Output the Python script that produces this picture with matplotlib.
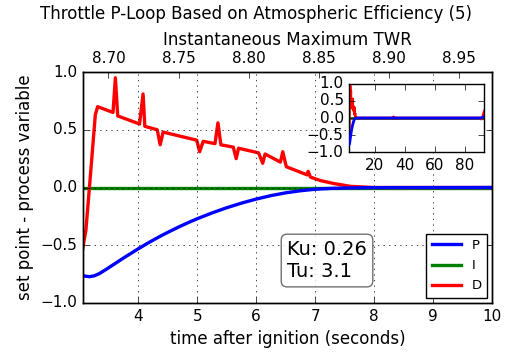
import matplotlib
matplotlib.use('Agg')
import matplotlib.pyplot as plt

# values
t_p = [3.05, 3.10, 3.17, 3.25, 3.34, 3.45, 3.57, 3.75, 4.0, 4.2, 4.36, 4.5, 4.7, 4.85, 5.0,
       5.25, 5.5, 5.75, 6.0, 6.25, 6.5, 6.75, 7.0, 7.25, 7.5, 8.0, 10.0, 90.0, 91.5, 93.0]
p_vals = [-0.76, -0.768, -0.772, -0.765, -0.745, -0.71, -0.67, -0.61, -0.53, -0.47, -0.425,
          -0.388, -0.338, -0.303, -0.27, -0.22, -0.175, -0.135, -0.1, -0.07, -0.046, -0.028,
          -0.015, -0.008, -0.004, -0.001, 0.0, 0.0, 0.01, 0.05]

t_i = [3.05, 93.0]
i_vals = [0.0, 0.0]

t_d = [3.05, 3.11, 3.17, 3.27, 3.31, 3.57, 3.61, 3.65, 4.02, 4.08, 4.11, 4.32, 4.37, 4.42,
       4.99, 5.04, 5.10, 5.30, 5.35, 5.40, 5.61, 5.66, 5.70, 6.04, 6.11, 6.15, 6.41, 6.45,
       6.51, 6.86, 6.88, 6.92, 7.09, 7.31, 7.60, 8.0, 10.0, 32.0, 32.5, 33.0, 90.0, 91.0, 92.0, 93.0]
d_vals = [-0.55, -0.37, 0.0, 0.63, 0.70, 0.65, 0.95, 0.62, 0.55, 0.81, 0.53, 0.50, 0.37, 0.48,
          0.41, 0.31, 0.40, 0.38, 0.56, 0.37, 0.35, 0.25, 0.34, 0.30, 0.21, 0.29, 0.22, 0.31,
          0.18, 0.11, 0.14, 0.09, 0.06, 0.035, 0.01, 0.0, 0.0, 0.0, 0.03, 0.0, 0.0, -0.03, 0.05, 0.2]

ku = 0.26
tu = 3.1
twr_lim = (8.6818, 8.9735)

plt.style.use('classic')
plt.rcParams['font.size'] = 11

fig = plt.figure(figsize=(5.12, 3.62), dpi=100, facecolor='white')
ax = fig.add_axes([0.162, 0.163, 0.799, 0.638])

ax.plot(t_i, i_vals, color='green', lw=2.4, zorder=1)
ax.plot(t_d, d_vals, color='red', lw=2.4, zorder=2)
ax.plot(t_p, p_vals, color='blue', lw=2.4, zorder=3)
ax.set_xlim(3.06, 10)
ax.set_ylim(-1, 1)
ax.set_yticks([-1.0, -0.5, 0.0, 0.5, 1.0])
ax.grid(True)
ax.set_xlabel('time after ignition (seconds)', fontsize=12)
ax.set_ylabel('set point - process variable', fontsize=12)

# legend in P, I, D order
hp, = ax.plot([], [], color='blue', lw=2.4)
hi, = ax.plot([], [], color='green', lw=2.4)
hd, = ax.plot([], [], color='red', lw=2.4)
ax.legend([hp, hi, hd], ['P', 'I', 'D'], loc='lower right', fontsize=9.5,
          numpoints=1, handlelength=2.2, borderaxespad=0.4, labelspacing=0.55)

ax.text(0.499, 0.095, 'Ku: %.2f\nTu: %.1f' % (ku, tu), transform=ax.transAxes,
        fontsize=14, ha='left', va='bottom',
        bbox=dict(boxstyle='round', facecolor='white', edgecolor='0.3', alpha=0.8))

ax2 = ax.twiny()
ax2.set_xlim(*twr_lim)
ax2.set_xticks([8.70, 8.75, 8.80, 8.85, 8.90, 8.95])
ax2.set_xticklabels(['8.70', '8.75', '8.80', '8.85', '8.90', '8.95'])
ax2.set_xlabel('Instantaneous Maximum TWR', fontsize=12)

fig.suptitle('Throttle P-Loop Based on Atmospheric Efficiency (5)', fontsize=12, y=0.985)

# inset with the whole run
ins = fig.add_axes([0.682, 0.580, 0.264, 0.188])
ins.plot(t_i, i_vals, color='green', lw=2, zorder=1)
ins.plot(t_d, d_vals, color='red', lw=2, zorder=2)
ins.plot(t_p, p_vals, color='blue', lw=2, zorder=3)
ins.set_xlim(3.05, 93)
ins.set_ylim(-1, 1)
ins.set_xticks([20, 40, 60, 80])
ins.set_yticks([-1.0, -0.5, 0.0, 0.5, 1.0])

fig.savefig('out.png', dpi=100, facecolor='white')
